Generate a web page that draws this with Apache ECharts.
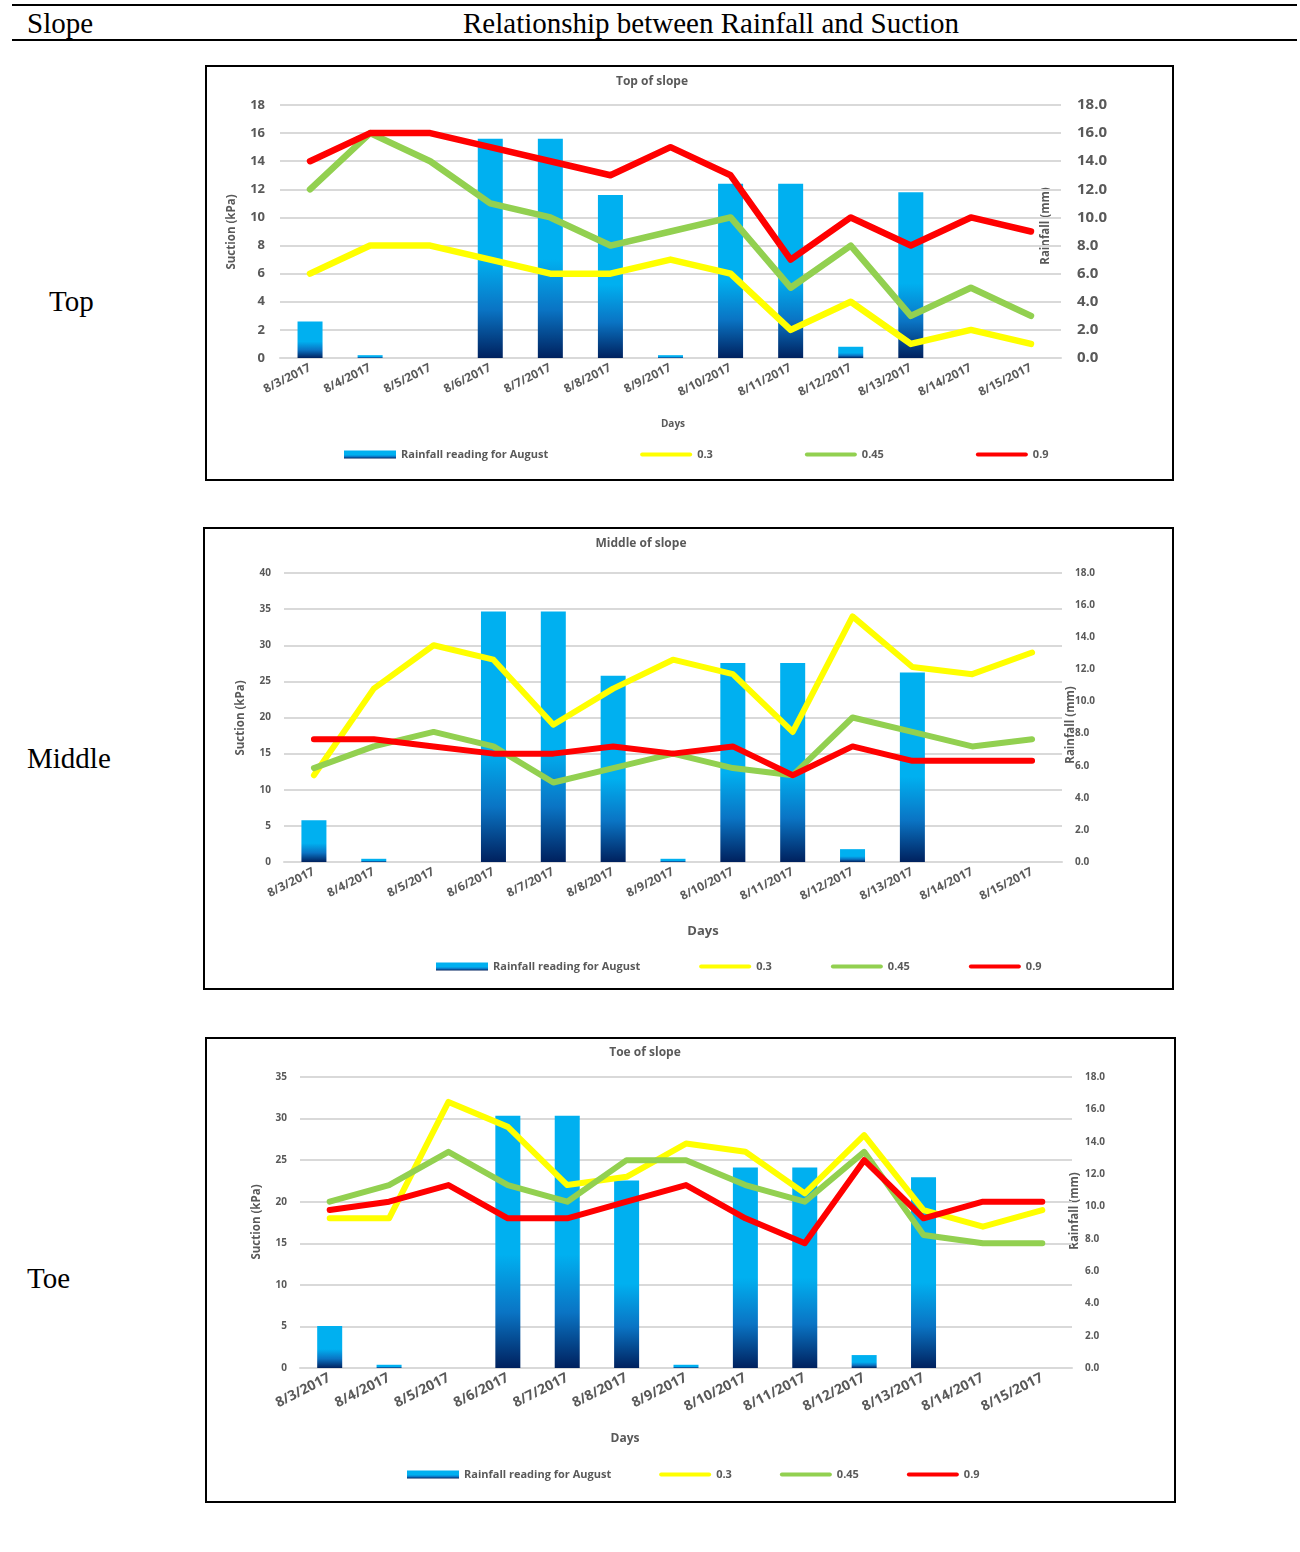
<!DOCTYPE html>
<html>
<head>
<meta charset="utf-8">
<script src="https://cdn.jsdelivr.net/npm/echarts@6/dist/echarts.min.js"></script>
<style>
  html, body { margin:0; padding:0; background:#fff; }
  body { width:1300px; height:1552px; position:relative; overflow:hidden; font-family:'Liberation Serif','DejaVu Serif',serif; }
  .rule { position:absolute; left:12px; width:1285px; height:2px; background:#000; }
  .serif { position:absolute; font-size:29px; line-height:32px; color:#000; white-space:nowrap; }
  .box { position:absolute; border:2px solid #000; box-sizing:border-box; background:#fff; }
  .chart { position:absolute; left:0; top:0; right:0; bottom:0; }
</style>
</head>
<body>
<div class="rule" style="top:4px"></div>
<div class="rule" style="top:39px"></div>
<div class="serif" style="left:27px;top:7px">Slope</div>
<div class="serif" style="left:463px;top:7px">Relationship between Rainfall and Suction</div>
<div class="serif" style="left:49px;top:285px">Top</div>
<div class="serif" style="left:27px;top:742px">Middle</div>
<div class="serif" style="left:27px;top:1262px">Toe</div>

<div class="box" style="left:205px;top:65px;width:969px;height:416px"><div class="chart" id="c1"></div></div>
<div class="box" style="left:203px;top:527px;width:971px;height:463px"><div class="chart" id="c2"></div></div>
<div class="box" style="left:205px;top:1037px;width:971px;height:466px"><div class="chart" id="c3"></div></div>

<script>
// ---- data ----
const days = ['8/3/2017','8/4/2017','8/5/2017','8/6/2017','8/7/2017','8/8/2017','8/9/2017','8/10/2017','8/11/2017','8/12/2017','8/13/2017','8/14/2017','8/15/2017'];
const rainfall = [2.6, 0.2, 0, 15.6, 15.6, 11.6, 0.2, 12.4, 12.4, 0.8, 11.8, 0, 0];
const seriesNames = ['Rainfall reading for August', '0.3', '0.45', '0.9'];

const topS03  = [6, 8, 8, 7, 6, 6, 7, 6, 2, 4, 1, 2, 1];
const topS045 = [12, 16, 14, 11, 10, 8, 9, 10, 5, 8, 3, 5, 3];
const topS09  = [14, 16, 16, 15, 14, 13, 15, 13, 7, 10, 8, 10, 9];

const midS03  = [12, 24, 30, 28, 19, 24, 28, 26, 18, 34, 27, 26, 29];
const midS045 = [13, 16, 18, 16, 11, 13, 15, 13, 12, 20, 18, 16, 17];
const midS09  = [17, 17, 16, 15, 15, 16, 15, 16, 12, 16, 14, 14, 14];

const toeS03  = [18, 18, 32, 29, 22, 23, 27, 26, 21, 28, 19, 17, 19];
const toeS045 = [20, 22, 26, 22, 20, 25, 25, 22, 20, 26, 16, 15, 15];
const toeS09  = [19, 20, 22, 18, 18, 20, 22, 18, 15, 25, 18, 20, 20];

const leftTicks = { top: [0, 18, 2], mid: [0, 40, 5], toe: [0, 35, 5] };
const rightTicks = [0, 18, 2];

// ---- styling ----
const GRAY = '#595959';
const FONT = '"Open Sans", "Noto Sans", sans-serif';
const barGrad = () => new echarts.graphic.LinearGradient(0, 0, 0, 1, [
  { offset: 0, color: '#00B0F0' },
  { offset: 0.55, color: '#00B0F0' },
  { offset: 0.78, color: '#0A74C4' },
  { offset: 1, color: '#00215E' }
]);
const lineColors = ['#FFFF00', '#92D050', '#FF0000'];
const lineIcon = 'path://M2,0 L50,0 A2,2 0 0 1 50,4 L2,4 A2,2 0 0 1 2,0 Z';

function txt(text, x, y, size, rot) {
  return {
    type: 'text', x: x, y: y, rotation: rot || 0, silent: true,
    style: { text: text, fill: GRAY, font: 'bold ' + size + 'px ' + FONT,
             align: 'center', verticalAlign: 'middle', textAlign: 'center', textVerticalAlign: 'middle' }
  };
}

function build(id, c) {
  const chart = echarts.init(document.getElementById(id), null, { renderer: 'canvas' });
  const lines = [c.s03, c.s045, c.s09].map((d, i) => ({
    name: seriesNames[i + 1], type: 'line', yAxisIndex: 0, data: d,
    symbol: 'none', showSymbol: false, z: 3 + i,
    lineStyle: { color: lineColors[i], width: c.lw, cap: 'round', join: 'round' },
    itemStyle: { color: lineColors[i] }
  }));
  chart.setOption({
    animation: false,
    grid: { left: c.grid[0], top: c.grid[1], width: c.grid[2], height: c.grid[3], containLabel: false },
    legend: {
      left: c.legend[0], top: c.legend[1], itemGap: c.legend[2],
      itemWidth: 52, itemHeight: 8, selectedMode: false,
      textStyle: { color: GRAY, fontSize: 11, fontWeight: 'bold', fontFamily: FONT },
      data: seriesNames.map((n, i) => i === 0 ? { name: n, icon: 'rect' } : { name: n, icon: lineIcon })
    },
    xAxis: {
      type: 'category', data: days, boundaryGap: true,
      axisLine: { lineStyle: { color: '#D9D9D9', width: 2 } },
      axisTick: { show: false },
      axisLabel: { rotate: c.xRot, margin: c.xMargin, color: GRAY, fontSize: c.xFs, fontWeight: 'bold', fontFamily: FONT, interval: 0 }
    },
    yAxis: [
      {
        type: 'value', min: c.left[0], max: c.left[1], interval: c.left[2],
        axisLine: { show: false }, axisTick: { show: false },
        splitLine: { lineStyle: { color: '#D9D9D9', width: 2 } },
        axisLabel: { color: GRAY, fontSize: c.lFs, fontWeight: 'bold', fontFamily: FONT, margin: c.lMargin }
      },
      {
        type: 'value', min: rightTicks[0], max: rightTicks[1], interval: rightTicks[2],
        axisLine: { show: false }, axisTick: { show: false }, splitLine: { show: false },
        axisLabel: { color: GRAY, fontSize: c.rFs, fontWeight: 'bold', fontFamily: FONT, margin: c.rMargin,
                     formatter: v => v.toFixed(1) }
      }
    ],
    graphic: [
      txt(c.title, c.titlePos[0], c.titlePos[1], c.titleFs),
      txt('Suction (kPa)', c.suc[0], c.suc[1], c.nameFs, Math.PI / 2),
      txt('Rainfall (mm)', c.rain[0], c.rain[1], c.nameFs, Math.PI / 2),
      txt('Days', c.days[0], c.days[1], c.daysFs)
    ],
    series: [{
      name: seriesNames[0], type: 'bar', yAxisIndex: 1, data: rainfall, barWidth: 25, z: 2,
      itemStyle: { color: barGrad() }
    }].concat(lines)
  });
}

build('c1', {
  title: 'Top of slope', titlePos: [445, 15], titleFs: 12,
  grid: [73, 38, 781, 253], left: leftTicks.top,
  s03: topS03, s045: topS045, s09: topS09, lw: 6.5,
  lFs: 13, lMargin: 15, rFs: 15, rMargin: 16,
  xRot: 27, xMargin: 9, xFs: 12,
  suc: [25, 165], rain: [839, 159], nameFs: 11.5,
  days: [466, 357], daysFs: 10,
  legend: [132, 377, 92]
});
build('c2', {
  title: 'Middle of slope', titlePos: [436, 15], titleFs: 12,
  grid: [79, 44, 778, 289], left: leftTicks.mid,
  s03: midS03, s045: midS045, s09: midS09, lw: 6,
  lFs: 10, lMargin: 13, rFs: 10, rMargin: 13,
  xRot: 27, xMargin: 9, xFs: 12,
  suc: [36, 189], rain: [866, 196], nameFs: 11.5,
  days: [498, 402], daysFs: 13,
  legend: [226, 427, 59]
});
build('c3', {
  title: 'Toe of slope', titlePos: [438, 14], titleFs: 12,
  grid: [93, 38, 772, 291], left: leftTicks.toe,
  s03: toeS03, s045: toeS045, s09: toeS09, lw: 6,
  lFs: 10, lMargin: 13, rFs: 10, rMargin: 13,
  xRot: 27, xMargin: 9, xFs: 14,
  suc: [50, 183], rain: [868, 172], nameFs: 11.5,
  days: [418, 400], daysFs: 12,
  legend: [195, 425, 48]
});
</script>
</body>
</html>
